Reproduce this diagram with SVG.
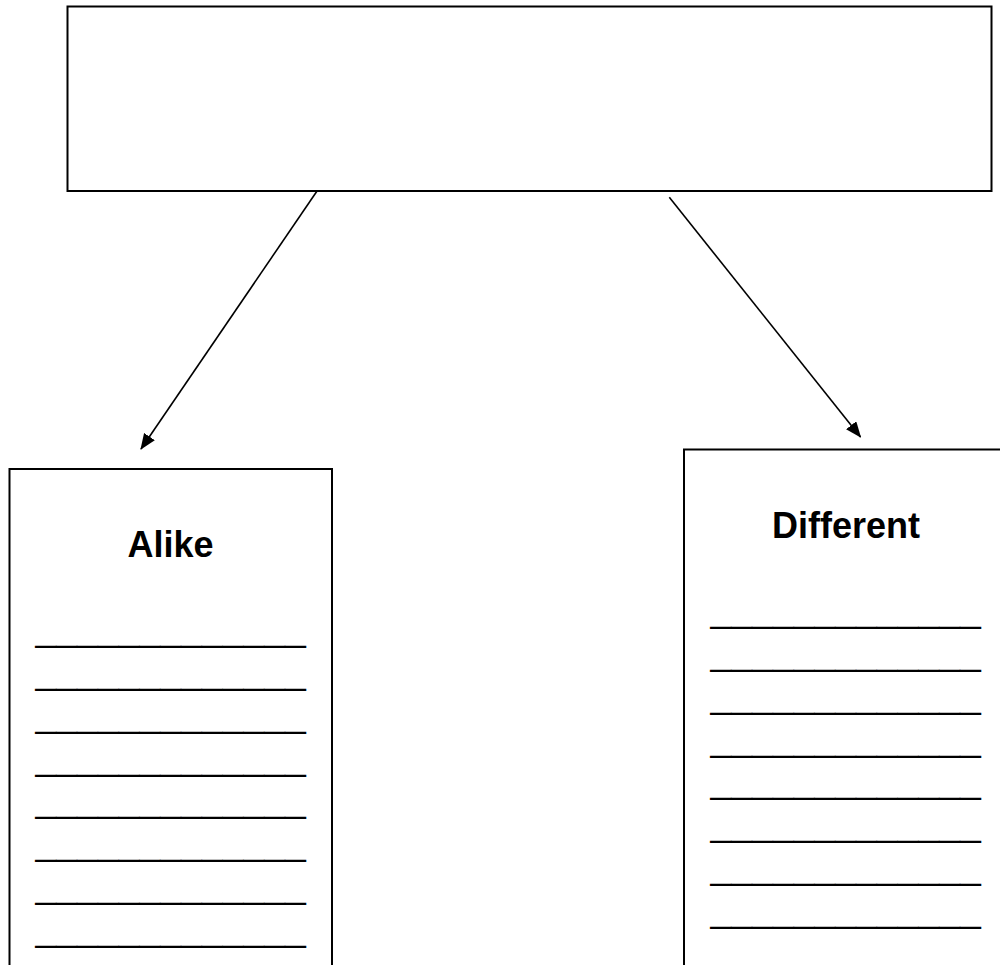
<svg xmlns="http://www.w3.org/2000/svg" width="1000" height="965" viewBox="0 0 1000 965">
<style>
.box{fill:#fff;stroke:#000;stroke-width:2}
.conn{stroke:#000;stroke-width:1.6;fill:none}
.title{font-family:"Liberation Sans",Arial,sans-serif;font-weight:bold;font-size:36px;fill:#000;text-anchor:middle}
.ul{font-family:"Liberation Sans",Arial,sans-serif;font-size:37.4px;fill:#000}
</style>
<defs>
<marker id="arrow" markerWidth="16" markerHeight="14" refX="15" refY="6.5" orient="auto" markerUnits="userSpaceOnUse">
<path d="M0,0 L16,6.5 L0,13 Z" fill="#000"/>
</marker>
</defs>
<rect width="1000" height="965" fill="#fff"/>
<g id="top-box">
<rect class="box" x="67.5" y="6.5" width="924" height="184.5"/>
</g>
<g id="alike-box">
<rect class="box" x="9.5" y="469" width="322.5" height="520"/>
<text class="title" x="170.5" y="557">Alike</text>
<text class="ul" x="35.5" y="641.2">_____________</text>
<text class="ul" x="35.5" y="684">_____________</text>
<text class="ul" x="35.5" y="726.7">_____________</text>
<text class="ul" x="35.5" y="769.5">_____________</text>
<text class="ul" x="35.5" y="812.2">_____________</text>
<text class="ul" x="35.5" y="855">_____________</text>
<text class="ul" x="35.5" y="897.8">_____________</text>
<text class="ul" x="35.5" y="940.5">_____________</text>
</g>
<g id="different-box">
<rect class="box" x="684" y="449.5" width="330" height="540"/>
<text class="title" x="846" y="537.5">Different</text>
<text class="ul" x="710.5" y="621.8">_____________</text>
<text class="ul" x="710.5" y="664.7">_____________</text>
<text class="ul" x="710.5" y="707.6">_____________</text>
<text class="ul" x="710.5" y="750.5">_____________</text>
<text class="ul" x="710.5" y="793.4">_____________</text>
<text class="ul" x="710.5" y="836.3">_____________</text>
<text class="ul" x="710.5" y="879.2">_____________</text>
<text class="ul" x="710.5" y="922.1">_____________</text>
</g>
<g id="connectors">
<line class="conn" x1="316.7" y1="191.5" x2="141" y2="449" marker-end="url(#arrow)"/>
<line class="conn" x1="669.3" y1="197.3" x2="860.5" y2="437" marker-end="url(#arrow)"/>
</g>
</svg>
